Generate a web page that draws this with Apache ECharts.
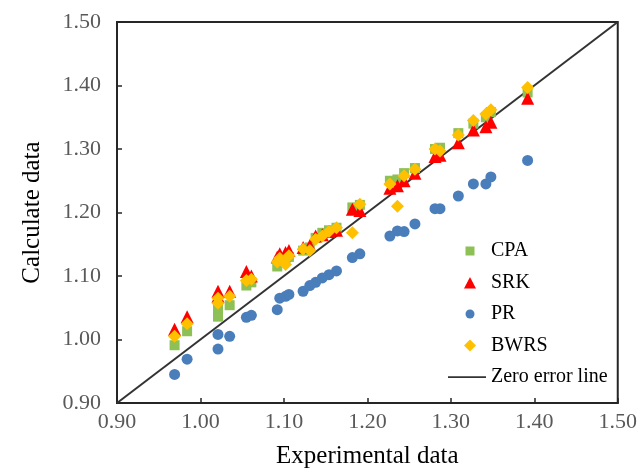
<!DOCTYPE html>
<html>
<head>
<meta charset="utf-8">
<script src="https://cdn.jsdelivr.net/npm/echarts@6/dist/echarts.min.js"></script>
<style>html,body{margin:0;padding:0;background:#fff}#chart{width:640px;height:474px}</style>
</head>
<body>
<div id="chart"></div>
<script>
// Experimental values (x) shared by all models
const experimental = [0.969,0.984,1.021,1.021,1.035,1.055,1.061,1.092,1.095,1.102,1.106,1.123,1.131,1.138,1.146,1.154,1.163,1.182,1.191,1.227,1.236,1.244,1.257,1.281,1.287,1.309,1.327,1.342,1.348,1.392];
const pr   = [0.945,0.969,0.985,1.008,1.005,1.035,1.038,1.047,1.065,1.068,1.071,1.076,1.085,1.090,1.097,1.102,1.108,1.129,1.135,1.163,1.171,1.170,1.182,1.206,1.206,1.226,1.245,1.245,1.256,1.282];
const cpa  = [0.991,1.013,1.036,1.050,1.054,1.085,1.090,1.115,1.125,1.128,1.130,1.140,1.145,1.160,1.168,1.172,1.176,1.208,1.212,1.250,1.252,1.262,1.270,1.300,1.302,1.325,1.340,1.350,1.358,1.389];
const srk  = [1.016,1.036,1.076,1.068,1.076,1.107,1.100,1.130,1.135,1.137,1.140,1.145,1.148,1.163,1.165,1.170,1.172,1.205,1.203,1.238,1.242,1.250,1.262,1.288,1.290,1.310,1.330,1.335,1.342,1.380];
const bwrs = [1.005,1.025,1.057,1.065,1.068,1.093,1.095,1.122,1.128,1.118,1.132,1.142,1.140,1.158,1.163,1.170,1.176,1.168,1.213,1.245,1.210,1.258,1.268,1.300,1.297,1.322,1.345,1.355,1.362,1.397];
const zeroLine = [[0.90,0.90],[1.50,1.50]];
const tickMin = 0.90, tickMax = 1.50, tickStep = 0.10;

const pair = ys => experimental.map((x,i)=>[x, ys[i]]);
const serif = '"Liberation Serif","Times New Roman",serif';

// legend icons: small shapes inside a 38x14 box so the text lines up with the line icon
const box = 'M0,0M38,14';
const icons = {
  CPA:  'path://' + box + 'M17.5,2.5h9v9h-9Z',
  SRK:  'path://' + box + 'M16,13L22,1.5L28,13Z',
  PR:   'path://' + box + 'M17.5,7a4.5,4.5 0 1,0 9,0a4.5,4.5 0 1,0 -9,0Z',
  BWRS: 'path://' + box + 'M22,1L28,7L22,13L16,7Z',
  ZERO: 'path://' + box + 'M0,6.2h38v1.8h-38Z'
};

const chart = echarts.init(document.getElementById('chart'), null, {renderer:'canvas'});
chart.setOption({
  animation:false,
  backgroundColor:'#fff',
  grid:{left:117,right:17,top:22,bottom:69,show:true,borderColor:'#262626',borderWidth:2,backgroundColor:'transparent'},
  xAxis:{type:'value',min:tickMin,max:tickMax,interval:tickStep,
    name:'Experimental data',nameLocation:'middle',nameGap:41,
    nameTextStyle:{fontFamily:serif,fontSize:25,color:'#000'},
    axisLine:{show:true,lineStyle:{color:'#262626',width:2}},
    axisTick:{show:true,inside:true,length:5,lineStyle:{color:'#262626',width:1.5}},
    axisLabel:{fontFamily:serif,fontSize:22,color:'#595959',margin:8,formatter:v=>v.toFixed(2)},
    splitLine:{show:false}},
  yAxis:{type:'value',min:tickMin,max:tickMax,interval:tickStep,
    name:'Calculate data',nameLocation:'middle',nameGap:72,
    nameTextStyle:{fontFamily:serif,fontSize:25,color:'#000'},
    axisLine:{show:true,lineStyle:{color:'#262626',width:2}},
    axisTick:{show:true,inside:true,length:5,lineStyle:{color:'#262626',width:1.5}},
    axisLabel:{fontFamily:serif,fontSize:22,color:'#595959',margin:16,formatter:v=>v.toFixed(2)},
    splitLine:{show:false}},
  legend:{orient:'vertical',left:443,top:236,itemWidth:38,itemHeight:14,itemGap:11.5,
    textStyle:{fontFamily:serif,fontSize:20,color:'#000'},
    data:[{name:'CPA',icon:icons.CPA},{name:'SRK',icon:icons.SRK},{name:'PR',icon:icons.PR},{name:'BWRS',icon:icons.BWRS},{name:'Zero error line',icon:icons.ZERO}]},
  series:[
    {name:'Zero error line',type:'line',data:zeroLine,symbol:'none',itemStyle:{color:'#333'},lineStyle:{color:'#333',width:2},z:1},
    {name:'CPA',type:'scatter',data:pair(cpa),symbol:'rect',symbolSize:10,itemStyle:{color:'#8dc055',opacity:1},z:2},
    {name:'SRK',type:'scatter',data:pair(srk),symbol:'triangle',symbolSize:13,itemStyle:{color:'#ff0000',opacity:1},z:3},
    {name:'PR',type:'scatter',data:pair(pr),symbol:'circle',symbolSize:11,itemStyle:{color:'#4a7ebb',opacity:1},z:4},
    {name:'BWRS',type:'scatter',data:pair(bwrs),symbol:'diamond',symbolSize:13,itemStyle:{color:'#ffc000',opacity:1},z:5}
  ]
});
</script>
</body>
</html>
